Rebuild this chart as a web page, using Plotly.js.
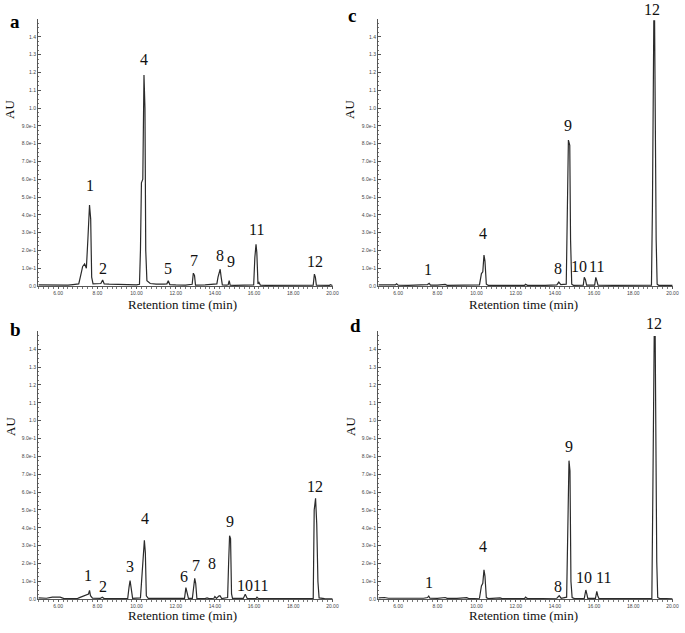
<!DOCTYPE html>
<html>
<head>
<meta charset="utf-8">
<script src="https://cdn.plot.ly/plotly-3.0.1.min.js"></script>
<style>
  html, body { margin: 0; padding: 0; background: #fff; }
  #chart { width: 685px; height: 633px; }
</style>
</head>
<body>
<div id="chart"></div>
<script>
// chromatogram a
const timeA = [5.0, 5.5, 6.0, 6.5, 6.75, 7.05, 7.15, 7.25, 7.35, 7.44, 7.52, 7.6, 7.66, 7.71, 7.78, 8.0, 8.18, 8.27, 8.35, 8.6, 9.0, 9.5, 10.0, 10.15, 10.2, 10.25, 10.32, 10.38, 10.43, 10.47, 10.53, 10.7, 11.0, 11.4, 11.55, 11.62, 11.7, 12.0, 12.5, 12.84, 12.9, 12.96, 13.01, 13.5, 13.8, 14.1, 14.16, 14.22, 14.27, 14.32, 14.38, 14.6, 14.68, 14.73, 14.78, 15.0, 15.5, 15.98, 16.04, 16.1, 16.14, 16.2, 16.25, 16.32, 16.6, 17.0, 18.0, 18.7, 19.02, 19.08, 19.13, 19.18, 19.5, 19.85, 19.9, 19.95, 20.0];
const auA = [0.006, 0.005, 0.005, 0.005, 0.008, 0.012, 0.06, 0.11, 0.124, 0.1, 0.27, 0.455, 0.376, 0.05, 0.012, 0.012, 0.014, 0.034, 0.012, 0.01, 0.008, 0.006, 0.006, 0.01, 0.2, 0.58, 0.6, 1.185, 1.0, 0.2, 0.03, 0.014, 0.01, 0.01, 0.012, 0.03, 0.008, 0.006, 0.005, 0.01, 0.072, 0.06, 0.005, 0.006, 0.008, 0.012, 0.05, 0.075, 0.094, 0.05, 0.006, 0.005, 0.007, 0.03, 0.005, 0.004, 0.005, 0.006, 0.16, 0.234, 0.19, 0.012, 0.02, 0.005, 0.004, 0.004, 0.004, 0.004, 0.005, 0.067, 0.05, 0.005, 0.004, 0.004, 0.008, 0.004, 0.003];

// chromatogram b
const timeB = [5.0, 5.4, 5.7, 6.1, 6.3, 7.0, 7.15, 7.3, 7.45, 7.55, 7.6, 7.65, 7.75, 8.15, 8.25, 8.35, 9.0, 9.55, 9.62, 9.67, 9.73, 9.8, 10.2, 10.28, 10.33, 10.4, 10.45, 10.5, 10.6, 11.6, 11.7, 11.8, 12.45, 12.52, 12.58, 12.65, 12.85, 12.93, 12.97, 13.02, 13.08, 13.5, 13.6, 13.7, 13.95, 14.0, 14.08, 14.2, 14.26, 14.35, 14.65, 14.7, 14.75, 14.8, 14.85, 14.9, 15.45, 15.55, 15.65, 16.1, 16.15, 16.22, 16.6, 16.65, 17.0, 18.0, 19.02, 19.07, 19.14, 19.2, 19.26, 19.32, 19.6, 20.0];
const auB = [0.008, 0.006, 0.012, 0.012, 0.004, 0.005, 0.012, 0.018, 0.022, 0.03, 0.05, 0.02, 0.006, 0.005, 0.012, 0.004, 0.004, 0.005, 0.07, 0.105, 0.06, 0.005, 0.008, 0.14, 0.16, 0.33, 0.26, 0.02, 0.005, 0.005, 0.008, 0.004, 0.005, 0.065, 0.04, 0.005, 0.005, 0.1, 0.117, 0.09, 0.005, 0.004, 0.008, 0.004, 0.006, 0.015, 0.005, 0.018, 0.02, 0.004, 0.01, 0.2, 0.356, 0.34, 0.03, 0.005, 0.005, 0.028, 0.005, 0.004, 0.012, 0.004, 0.004, 0.007, 0.004, 0.004, 0.005, 0.5, 0.565, 0.42, 0.1, 0.008, 0.004, 0.003];

// chromatogram c
const timeC = [5.0, 5.5, 5.85, 5.92, 6.0, 6.5, 7.0, 7.3, 7.5, 7.58, 7.65, 8.0, 8.4, 8.5, 9.0, 10.15, 10.25, 10.32, 10.38, 10.43, 10.5, 10.6, 11.5, 12.45, 12.5, 12.6, 13.5, 14.1, 14.2, 14.3, 14.58, 14.62, 14.69, 14.76, 14.8, 14.86, 14.95, 15.45, 15.5, 15.56, 15.62, 16.03, 16.09, 16.14, 16.2, 17.0, 18.25, 18.3, 18.4, 18.93, 18.98, 19.05, 19.09, 19.12, 19.17, 19.22, 19.3, 19.7, 19.9, 20.0];
const auC = [0.006, 0.005, 0.006, 0.012, 0.005, 0.004, 0.005, 0.006, 0.008, 0.015, 0.005, 0.005, 0.009, 0.004, 0.004, 0.006, 0.07, 0.08, 0.174, 0.14, 0.01, 0.004, 0.004, 0.004, 0.01, 0.004, 0.004, 0.006, 0.022, 0.008, 0.01, 0.44, 0.82, 0.79, 0.26, 0.01, 0.004, 0.005, 0.049, 0.035, 0.005, 0.005, 0.048, 0.03, 0.005, 0.004, 0.004, 0.007, 0.004, 0.005, 0.445, 1.49, 1.49, 0.93, 0.26, 0.01, 0.004, 0.004, 0.006, 0.003];

// chromatogram d
const timeD = [5.0, 5.3, 5.5, 6.0, 6.5, 7.0, 7.3, 7.5, 7.56, 7.62, 8.0, 8.4, 8.5, 9.0, 9.5, 9.6, 10.15, 10.25, 10.32, 10.38, 10.43, 10.5, 10.6, 11.2, 11.3, 12.45, 12.5, 12.6, 13.5, 14.1, 14.22, 14.32, 14.6, 14.65, 14.72, 14.77, 14.82, 14.88, 15.0, 15.5, 15.58, 15.63, 15.68, 16.07, 16.14, 16.19, 16.25, 17.0, 18.3, 18.4, 18.95, 19.0, 19.07, 19.12, 19.15, 19.2, 19.25, 19.35, 19.7, 19.9, 20.0];
const auD = [0.008, 0.01, 0.006, 0.006, 0.005, 0.005, 0.006, 0.01, 0.018, 0.006, 0.005, 0.01, 0.005, 0.005, 0.009, 0.004, 0.006, 0.075, 0.09, 0.165, 0.13, 0.01, 0.004, 0.008, 0.004, 0.004, 0.012, 0.004, 0.004, 0.006, 0.02, 0.006, 0.012, 0.38, 0.776, 0.72, 0.1, 0.01, 0.004, 0.005, 0.052, 0.03, 0.005, 0.005, 0.045, 0.02, 0.004, 0.004, 0.006, 0.004, 0.005, 0.584, 1.47, 1.47, 0.82, 0.21, 0.01, 0.004, 0.004, 0.006, 0.003];

// peak numbers and where their labels sit (time, AU)
const peakNamesA = ['1', '2', '4', '5', '7', '8', '9', '11', '12'];
const peakXA = [7.61, 8.27, 10.40, 11.59, 12.94, 14.28, 14.80, 16.11, 19.12];
const peakYA = [0.567, 0.101, 1.27, 0.101, 0.146, 0.169, 0.14, 0.315, 0.14];

const peakNamesB = ['1', '2', '3', '4', '6', '7', '8', '9', '10', '11', '12'];
const peakXB = [7.52, 8.27, 9.67, 10.43, 12.41, 13.02, 13.87, 14.79, 15.56, 16.33, 19.12];
const peakYB = [0.136, 0.074, 0.183, 0.45, 0.127, 0.192, 0.198, 0.435, 0.08, 0.08, 0.634];

const peakNamesC = ['1', '4', '8', '9', '10', '11', '12'];
const peakXC = [7.50, 10.35, 14.16, 14.67, 15.22, 16.11, 18.98];
const peakYC = [0.09, 0.296, 0.101, 0.899, 0.108, 0.108, 1.554];

const peakNamesD = ['1', '4', '8', '9', '10', '11', '12'];
const peakXD = [7.55, 10.35, 14.16, 14.70, 15.51, 16.46, 19.07];
const peakYD = [0.093, 0.295, 0.074, 0.854, 0.123, 0.123, 1.545];

// tick labels
const xTickVals = [6, 8, 10, 12, 14, 16, 18, 20];
const xTickText = ['6.00', '8.00', '10.00', '12.00', '14.00', '16.00', '18.00', '20.00'];
const yTickVals = [0, 0.1, 0.2, 0.3, 0.4, 0.5, 0.6, 0.7, 0.8, 0.9, 1.0, 1.1, 1.2, 1.3, 1.4];
const yTickText = ['0.0', '1.0e-1', '2.0e-1', '3.0e-1', '4.0e-1', '5.0e-1', '6.0e-1', '7.0e-1', '8.0e-1', '9.0e-1', '1.0', '1.1', '1.2', '1.3', '1.4'];

const W = 685;
const H = 633;
const Y_MAX = 1.5;
const serif = 'Liberation Serif, Times New Roman, serif';

function px(x) { return x / W; }
function py(y) { return 1 - y / H; }

function ejeX(left, right, anchor) {
  return {
    domain: [px(left), px(right)],
    anchor: anchor,
    range: [4.97, 20.05],
    tickvals: xTickVals,
    ticktext: xTickText,
    tickfont: { family: 'Arial, sans-serif', size: 5, color: '#444' },
    ticks: 'outside',
    ticklen: 2,
    tickcolor: '#555',
    minor: { dtick: 0.25, ticks: 'outside', ticklen: 1.5, tickcolor: '#777', showgrid: false },
    showline: true,
    linecolor: '#555',
    linewidth: 1,
    showgrid: false,
    zeroline: false,
    fixedrange: true
  };
}

function ejeY(top, bottom, anchor) {
  return {
    domain: [py(bottom), py(top)],
    anchor: anchor,
    range: [0, Y_MAX],
    tickvals: yTickVals,
    ticktext: yTickText,
    tickfont: { family: 'Arial, sans-serif', size: 5, color: '#444' },
    ticks: 'inside',
    ticklen: 2.5,
    tickcolor: '#555',
    minor: { dtick: 0.025, ticks: 'inside', ticklen: 1.2, tickcolor: '#777', showgrid: false },
    showline: true,
    linecolor: '#555',
    linewidth: 1,
    showgrid: false,
    zeroline: false,
    fixedrange: true
  };
}

function traza(t, v, xa, ya) {
  return {
    x: t,
    y: v,
    xaxis: xa,
    yaxis: ya,
    type: 'scatter',
    mode: 'lines',
    line: { color: '#2b2b2b', width: 1.2 },
    hoverinfo: 'skip'
  };
}

// pixels per AU unit, used to push labels that sit above the top of the axis
const pxPorAU = 178;

function etiquetas(names, xs, ys, xa, ya) {
  return names.map((n, i) => {
    const y = Math.min(ys[i], Y_MAX);
    return {
      text: n,
      x: xs[i],
      y: y,
      yshift: (ys[i] - y) * pxPorAU,
      xref: xa,
      yref: ya,
      showarrow: false,
      xanchor: 'center',
      yanchor: 'middle',
      font: { family: serif, size: 16, color: '#111' }
    };
  });
}

function textoPapel(text, x, y, opts = {}) {
  return Object.assign({
    text: text,
    x: px(x),
    y: py(y),
    xref: 'paper',
    yref: 'paper',
    showarrow: false,
    xanchor: 'center',
    yanchor: 'middle',
    font: { family: serif, size: 13, color: '#111' }
  }, opts);
}

const data = [
  traza(timeA, auA, 'x', 'y'),
  traza(timeC, auC, 'x2', 'y2'),
  traza(timeB, auB, 'x3', 'y3'),
  traza(timeD, auD, 'x4', 'y4')
];

const letra = { family: serif, size: 19, color: '#000', weight: 'bold' };
const au = { family: serif, size: 13, color: '#111' };

const annotations = [
  ...etiquetas(peakNamesA, peakXA, peakYA, 'x', 'y'),
  ...etiquetas(peakNamesC, peakXC, peakYC, 'x2', 'y2'),
  ...etiquetas(peakNamesB, peakXB, peakYB, 'x3', 'y3'),
  ...etiquetas(peakNamesD, peakXD, peakYD, 'x4', 'y4'),
  textoPapel('Retention time (min)', 183, 304),
  textoPapel('Retention time (min)', 523, 304),
  textoPapel('Retention time (min)', 183, 615),
  textoPapel('Retention time (min)', 523, 615),
  textoPapel('AU', 10, 110, { textangle: -90, font: au }),
  textoPapel('AU', 350, 110, { textangle: -90, font: au }),
  textoPapel('AU', 10, 427, { textangle: -90, font: au }),
  textoPapel('AU', 350, 427, { textangle: -90, font: au }),
  textoPapel('a', 15, 21, { font: letra }),
  textoPapel('c', 352, 15, { font: letra }),
  textoPapel('b', 15, 329, { font: letra }),
  textoPapel('d', 355, 325, { font: letra })
];

const layout = {
  width: W,
  height: H,
  margin: { l: 0, r: 0, t: 0, b: 0 },
  paper_bgcolor: '#fff',
  plot_bgcolor: '#fff',
  showlegend: false,
  xaxis: ejeX(38, 333.4, 'y'),
  yaxis: ejeY(19, 286, 'x'),
  xaxis2: ejeX(378, 673.4, 'y2'),
  yaxis2: ejeY(19, 286, 'x2'),
  xaxis3: ejeX(38, 333.4, 'y3'),
  yaxis3: ejeY(331.3, 599.3, 'x3'),
  xaxis4: ejeX(378, 673.4, 'y4'),
  yaxis4: ejeY(331.3, 599.3, 'x4'),
  annotations: annotations
};

Plotly.newPlot('chart', data, layout, { displayModeBar: false, staticPlot: true });
</script>
</body>
</html>
